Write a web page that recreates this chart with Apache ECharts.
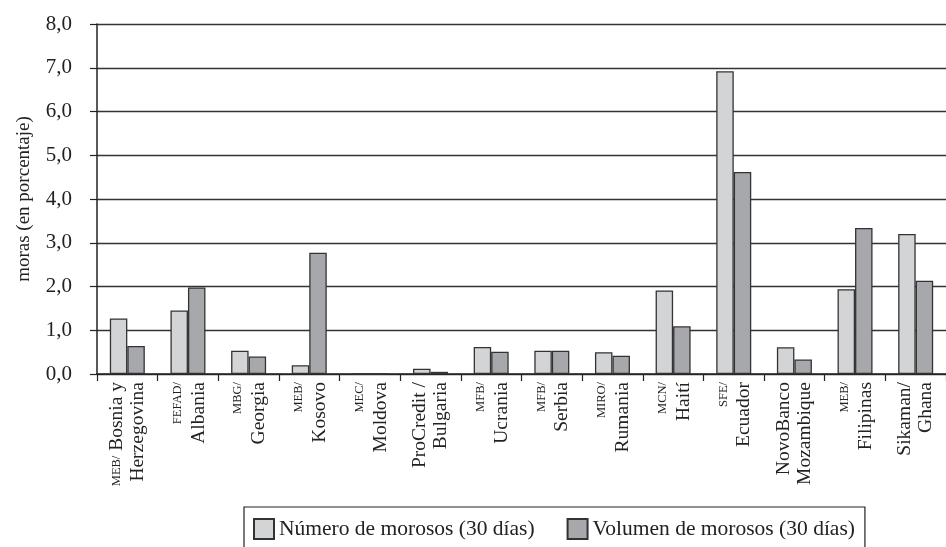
<!DOCTYPE html>
<html>
<head>
<meta charset="utf-8">
<script src="https://cdn.jsdelivr.net/npm/echarts@6/dist/echarts.min.js"></script>
<style>
html,body{margin:0;padding:0;background:#fff;}
#c{width:946px;height:547px;}
</style>
</head>
<body>
<div id="c"></div>
<script>
var prefixes = ['MEB/', 'FEFAD/', 'MBG/', 'MEB/', 'MEC/', '', 'MFB/', 'MFB/', 'MIRO/', 'MCN/', 'SFE/', '', 'MEB/', ''];
var line1 = ['Bosnia y', '', '', '', '', 'ProCredit /', '', '', '', '', '', 'NovoBanco', '', 'Sikaman/'];
var line2 = ['Herzegovina', 'Albania', 'Georgia', 'Kosovo', 'Moldova', 'Bulgaria', 'Ucrania', 'Serbia', 'Rumania', 'Haití', 'Ecuador', 'Mozambique', 'Filipinas', 'Ghana'];
var numero = [1.27, 1.45, 0.53, 0.20, 0, 0.12, 0.62, 0.53, 0.50, 1.91, 6.92, 0.61, 1.94, 3.20];
var volumen = [0.64, 1.98, 0.40, 2.77, 0, 0.05, 0.51, 0.53, 0.42, 1.09, 4.62, 0.33, 3.34, 2.13];
var yTicks = [0, 1, 2, 3, 4, 5, 6, 7, 8];
var seriesNames = ['Número de morosos (30 días)', 'Volumen de morosos (30 días)'];
var yAxisTitle = 'moras (en porcentaje)';

var categories = line2.map(function (v, i) { return String(i); });
var FONT = '"Liberation Serif", "DejaVu Serif", serif';

var chart = echarts.init(document.getElementById('c'));
chart.setOption({
  animation: false,
  backgroundColor: '#fff',
  textStyle: { fontFamily: FONT, color: '#222' },
  grid: { left: 97, top: 24, bottom: 173, right: -8, containLabel: false },
  legend: {
    left: 244, top: 507,
    width: 700,
    orient: 'horizontal',
    icon: 'rect',
    itemWidth: 20, itemHeight: 20,
    itemGap: 32,
    padding: [11, 10, 11, 9],
    borderColor: '#222', borderWidth: 1.2,
    textStyle: { fontFamily: FONT, fontSize: 21.5, color: '#222' },
    data: seriesNames
  },
  graphic: [{
    type: 'text',
    x: 24, y: 199,
    rotation: Math.PI / 2,
    style: {
      text: yAxisTitle,
      font: '19px ' + FONT,
      fill: '#222',
      align: 'center',
      verticalAlign: 'middle'
    }
  }],
  xAxis: {
    type: 'category',
    data: categories,
    axisLine: { lineStyle: { color: '#222', width: 1.5 } },
    axisTick: { show: true, length: 7, lineStyle: { color: '#222', width: 1.2 } },
    axisLabel: {
      rotate: 90,
      margin: 8,
      interval: 0,
      color: '#222',
      formatter: function (v) {
        var i = +v;
        var a = '';
        if (prefixes[i]) a += '{s|' + prefixes[i] + '}';
        if (prefixes[i] && line1[i]) a += '{b| }';
        if (line1[i]) a += '{b|' + line1[i] + '}';
        return a + '\n{b|' + line2[i] + '}';
      },
      rich: {
        s: { fontFamily: FONT, fontSize: 12.5, color: '#222', lineHeight: 21 },
        b: { fontFamily: FONT, fontSize: 19.5, color: '#222', lineHeight: 21 }
      }
    }
  },
  yAxis: {
    type: 'value',
    min: 0, max: 8, interval: 1,
    axisLine: { show: true, lineStyle: { color: '#222', width: 1.5 } },
    axisTick: { show: true, length: 7, lineStyle: { color: '#222', width: 1.2 } },
    axisLabel: {
      margin: 25,
      fontFamily: FONT,
      fontSize: 21,
      color: '#222',
      formatter: function (v) { return yTicks.indexOf(v) >= 0 ? v.toFixed(1).replace('.', ',') : ''; }
    },
    splitLine: { show: true, lineStyle: { color: '#333', width: 1.3 } }
  },
  series: [
    {
      name: seriesNames[0], type: 'bar', data: numero,
      barWidth: 17.5, barGap: '0%',
      itemStyle: { color: '#d3d4d6', borderColor: '#333', borderWidth: 1.3 }
    },
    {
      name: seriesNames[1], type: 'bar', data: volumen,
      barWidth: 17.5, barGap: '0%',
      itemStyle: { color: '#a7a8ac', borderColor: '#333', borderWidth: 1.3 }
    }
  ]
});
</script>
</body>
</html>
